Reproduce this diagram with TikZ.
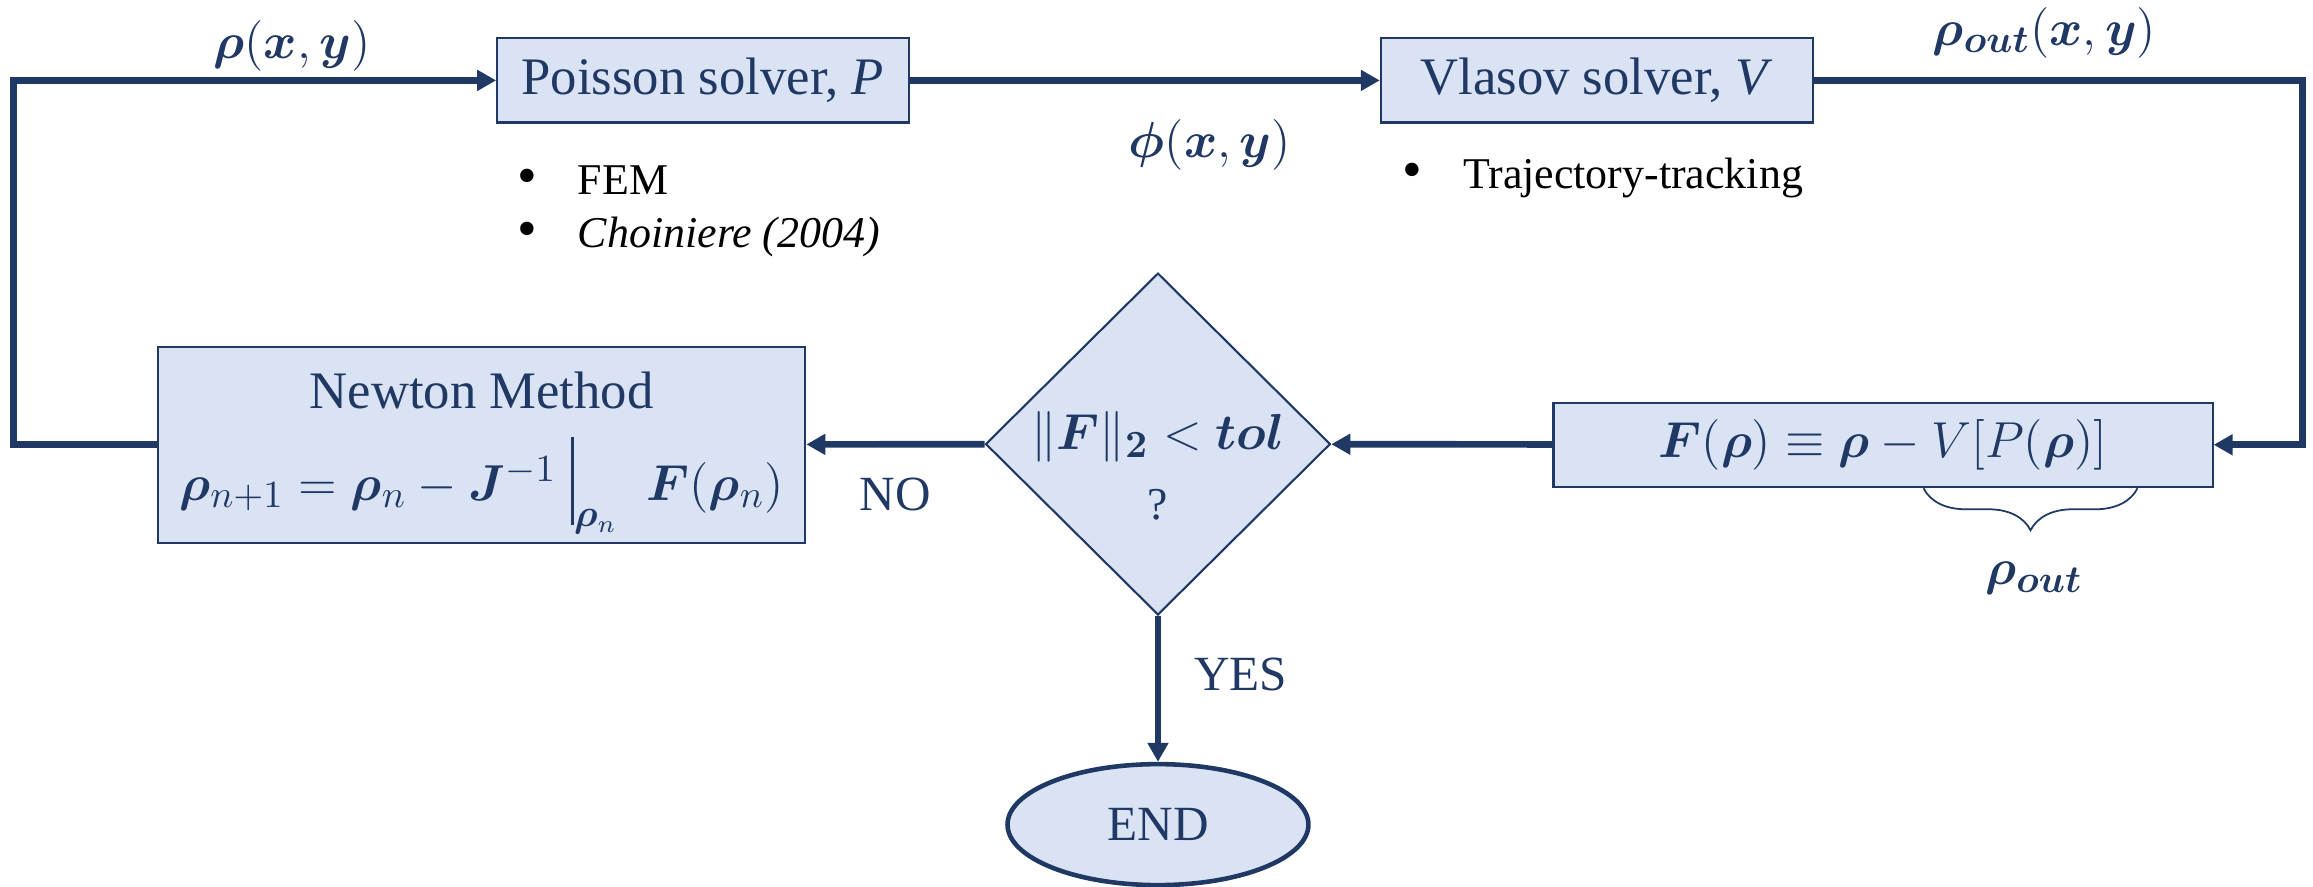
\documentclass[tikz,border=0pt]{standalone}
\usepackage{amsmath}
\usepackage{bm}
\usepackage{fontspec}
\setmainfont{Liberation Serif}
\usetikzlibrary{positioning,shapes.geometric,arrows.meta,decorations.pathreplacing}
\definecolor{flowblue}{RGB}{32,56,100}
\definecolor{flowfill}{RGB}{218,227,243}
\newcommand{\notebullet}{\makebox[0.61cm][l]{\fontsize{16}{16}\selectfont\textbullet}}
\newcommand{\evalbar}{\rule[-7pt]{1pt}{25pt}}

\begin{document}
\begin{tikzpicture}[x=0.01475cm,y=-0.01475cm,
box/.style={draw=flowblue,fill=flowfill,line width=0.6pt,rectangle,text=flowblue,
    font=\fontsize{15}{18}\selectfont,inner sep=0pt},
flow/.style={draw=flowblue,line width=1.9pt,-{Triangle[length=0.19cm,width=0.2cm]}},
qty/.style={text=flowblue,font=\fontsize{15}{18}\selectfont,inner sep=0pt},
answer/.style={text=flowblue,font=\fontsize{14}{17}\selectfont,inner sep=0pt},
note/.style={font=\fontsize{12.5}{15}\selectfont,inner sep=0pt,anchor=base west},
bracket/.style={draw=flowblue,line width=0.5pt,decorate,decoration={brace,mirror,amplitude=0.42cm}}]
\useasboundingbox (0,0) rectangle (1568,601);

\node (pois) [box,minimum width=4.115cm,minimum height=0.841cm] at (476.5,54.5) {Poisson solver, \textit{P}};
\node (vlas) [box,minimum width=4.32cm,minimum height=0.841cm] at (1082.5,54.5) {Vlasov solver, \textit{V}};
\node (resid) [box,minimum width=6.593cm,minimum height=0.841cm] at (1276.5,301.5)
    {$\bm{F}(\bm{\rho})\equiv\bm{\rho}-V[P(\bm{\rho})]$};
\node (newton) [box,minimum width=6.475cm,minimum height=1.962cm,align=center] at (326.5,301.5)
    {\rule{0pt}{15pt}Newton Method\\[7pt]
     $\bm{\rho}_{n+1}=\bm{\rho}_n-\bm{J}^{-1}\;\evalbar_{\bm{\rho}_n}\;\;\bm{F}(\bm{\rho}_n)$};
\node (check) [box,diamond,minimum width=3.45cm,minimum height=3.42cm] at (785,301) {};
\node (checktext) [qty,align=center] at (785,316)
    {$\|\bm{F}\|_{\bm{2}}<\bm{tol}$\\[2pt] {\fontsize{13}{15}\selectfont ?}};
\node (stop) [box,ellipse,line width=1.3pt,minimum width=3.01cm,minimum height=1.21cm,
    font=\fontsize{14}{17}\selectfont] at (785,559) {END};

% quantities on the loop
\node (rhoin) [qty] at (198,31) {$\bm{\rho}(\bm{x},\bm{y})$};
\node (phi) [qty] at (820,98) {$\bm{\phi}(\bm{x},\bm{y})$};
\node (rhoout) [qty] at (1386,22) {$\bm{\rho}_{\bm{out}}(\bm{x},\bm{y})$};

% solver notes
\node (fem) [note] at (350,132) {\notebullet FEM};
\node (choi) [note] at (350,168) {\notebullet\textit{Choiniere (2004)}};
\node (track) [note] at (950,128) {\notebullet Trajectory-tracking};

% brace under V[P(rho)]
\coordinate (brl) at (1304,331);
\coordinate (brr) at (1449,331);
\draw[bracket] (brl) -- (brr);
\node (rhobr) [qty] at (1379,392) {$\bm{\rho}_{\bm{out}}$};

% connectors
\coordinate (lturn) at (9,0);
\coordinate (rturn) at (1561,0);
\draw[flow] (pois) -- (vlas);
\draw[flow] (vlas.east) -| (rturn |- resid.east) -- (resid.east);
\draw[flow] (resid) -- (check);
\draw[flow] (check) -- node[answer,below=0.3cm] (no) {NO} (newton);
\draw[flow] (check) -- node[answer,right=0.33cm,pos=0.4] (yes) {YES} (stop);
\draw[flow] (newton.west) -| (lturn |- pois.west) -- (pois.west);
\end{tikzpicture}
\end{document}
